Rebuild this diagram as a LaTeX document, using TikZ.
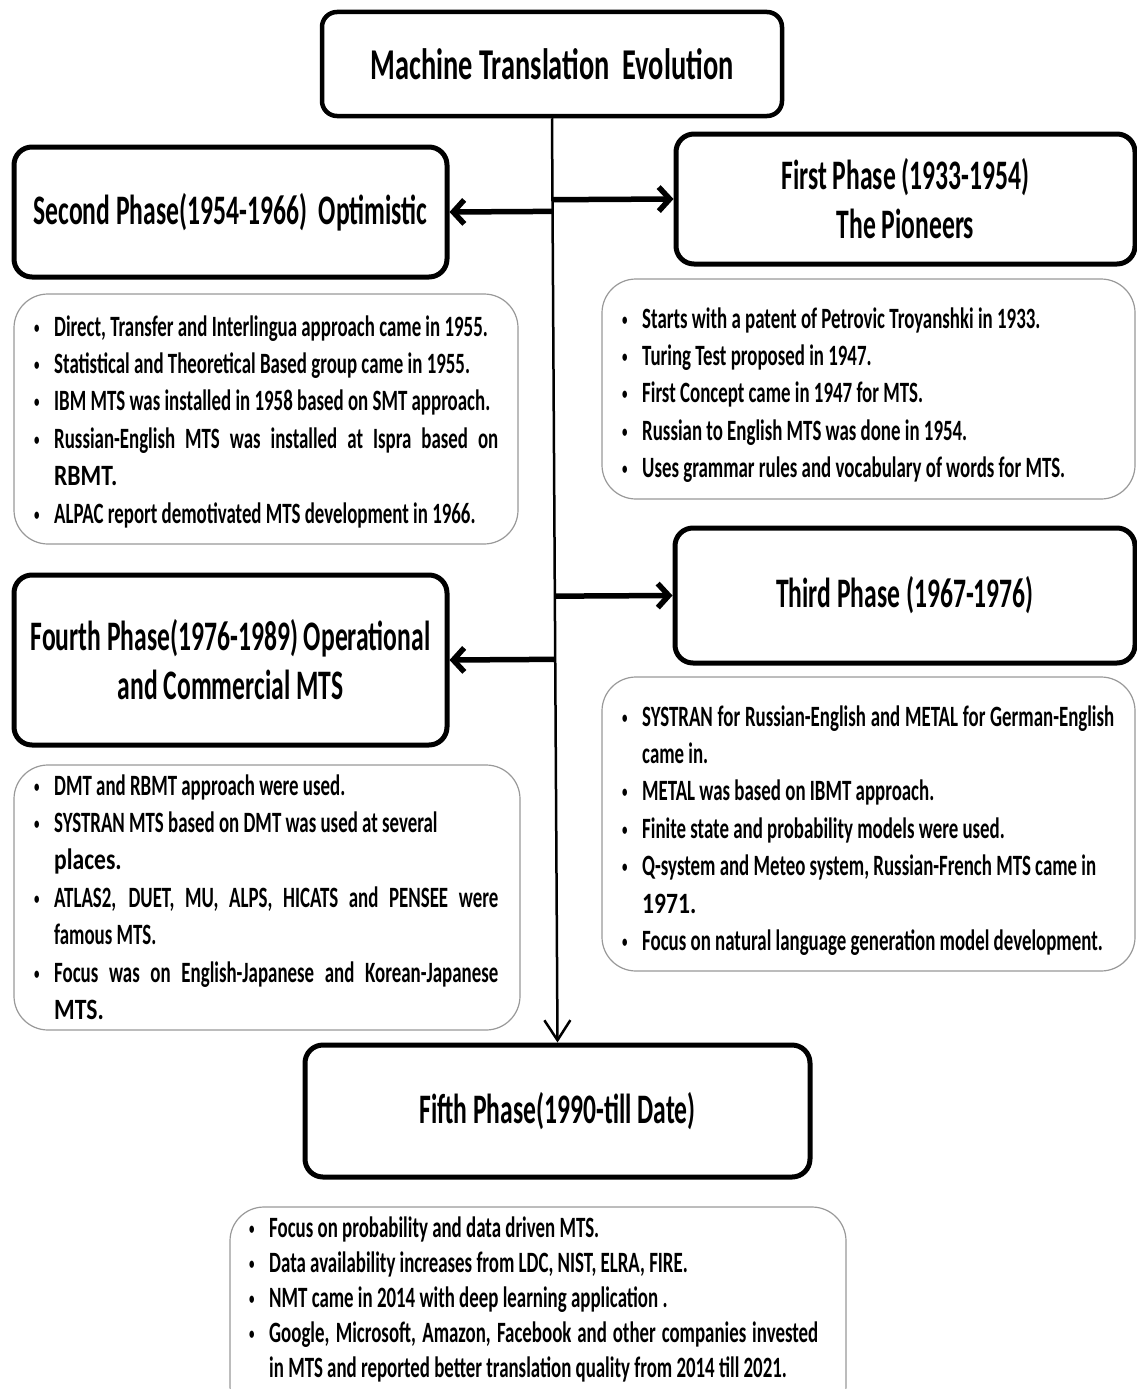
\documentclass[tikz,border=0pt]{standalone}
\usepackage{fontspec}
\setmainfont{Carlito}
\newfontfamily\bodyfont[FakeStretch=0.64]{Carlito Bold}
\newfontfamily\widefont[FakeStretch=0.80]{Carlito Bold}
\newfontfamily\headfont[FakeStretch=0.61]{Carlito Bold}
\newfontfamily\titlefont[FakeStretch=0.645]{Carlito Bold}
\usetikzlibrary{arrows.meta,calc}

% bullet marker, first item and following items with hanging indent
\newcommand\bmark{\makebox[20pt][l]{\raisebox{3pt}{\fontsize{17}{17}\selectfont\textbullet}}}
\newcommand\fitem{\hangindent=20pt\hangafter=1\bmark\ignorespaces}
\newcommand\bitem{\par\noindent\hangindent=20pt\hangafter=1\bmark\ignorespaces}
% paragraph settings for the lists
\newcommand\listsetup{\parskip=0pt\relax\parindent=0pt\relax\hyphenpenalty=10000\relax\exhyphenpenalty=10000\relax}

\tikzset{
  phasebox/.style={draw=black, line width=5pt, rounded corners=18pt, fill=white,
    align=center, inner sep=0pt, font=\headfont\fontsize{42}{49}\selectfont},
  titlebox/.style={draw=black, line width=4.5pt, rounded corners=15pt, fill=white,
    align=center, inner sep=0pt, font=\titlefont\fontsize{44}{50}\selectfont},
  infobox/.style={draw=black!40, line width=1.2pt, rounded corners=34pt, fill=white, inner sep=0pt},
  listtext/.style={inner sep=0pt, anchor=base west, align=justify,
    font=\bodyfont\fontsize{29.5}{37.4}\selectfont},
  trunk/.style={draw=black, line width=2.5pt, -{Straight Barb[length=20pt,width=26pt]}},
  harrow/.style={draw=black, line width=5.5pt, -{Straight Barb[length=11pt,width=24pt]}}
}

\begin{document}
\begin{tikzpicture}[x=1pt,y=-1pt]
\useasboundingbox (0,0) rectangle (1137,1389);
\clip (0,0) rectangle (1137,1389);

% information panels
\node[infobox, minimum width=504, minimum height=250] (b2) at (266,419) {};
\node[infobox, minimum width=533, minimum height=220] (b1) at (868.5,389) {};
\node[infobox, minimum width=533, minimum height=294] (b3) at (868.5,824) {};
\node[infobox, minimum width=506, minimum height=265] (b4) at (267,897.5) {};
\node[infobox, minimum width=616, minimum height=213] (b5) at (538,1313.5) {};

% phase boxes
\node[titlebox, minimum width=460, minimum height=104] (title) at (552,64) {Machine Translation\ \ Evolution};
\node[phasebox, minimum width=433, minimum height=130] (p2) at (230.5,212) {Second Phase(1954-1966)\ \ Optimistic};
\node[phasebox, minimum width=459, minimum height=130] (p1) at (905.5,199) {First Phase (1933-1954)\\The Pioneers};
\node[phasebox, minimum width=460, minimum height=135] (p3) at (905,595.5) {Third Phase (1967-1976)};
\node[phasebox, minimum width=433, minimum height=170] (p4) at (230.5,660) {Fourth Phase(1976-1989) Operational\\and Commercial MTS};
\node[phasebox, minimum width=505, minimum height=132] (p5) at (557.5,1111) {Fifth Phase(1990-till Date)};

% connectors
\draw[trunk] (title.south) -- (p5.north);
\draw[harrow] ($(title.south)!(p1.west)!(p5.north)$) -- (p1.west);
\draw[harrow] ($(title.south)!(p2.east)!(p5.north)$) -- (p2.east);
\draw[harrow] ($(title.south)!(p3.west)!(p5.north)$) -- (p3.west);
\draw[harrow] ($(title.south)!(p4.east)!(p5.north)$) -- (p4.east);

% bullet lists
\node[listtext, text width=464] (l2) at (34,336) {\listsetup
\fitem Direct, Transfer and Interlingua approach came in 1955.
\bitem Statistical and Theoretical Based group came in 1955.
\bitem IBM MTS was installed in 1958 based on SMT approach.
\bitem Russian-English MTS was installed at Ispra based on\linebreak {\widefont RBMT.}
\bitem ALPAC report demotivated MTS development in 1966.\par};

\node[listtext, text width=493] (l1) at (622,328) {\listsetup
\fitem Starts with a patent of Petrovic Troyanshki in 1933.
\bitem Turing Test proposed in 1947.
\bitem First Concept came in 1947 for MTS.
\bitem Russian to English MTS was done in 1954.
\bitem Uses grammar rules and vocabulary of words for MTS.\par};

\node[listtext, text width=492] (l3) at (622,726) {\listsetup
\fitem SYSTRAN for Russian-English and METAL for German-English\linebreak came in.
\bitem METAL was based on IBMT approach.
\bitem Finite state and probability models were used.
\bitem Q-system and Meteo system, Russian-French MTS came in\newline {\widefont 1971.}
\bitem Focus on natural language generation model development.\par};

\node[listtext, text width=464] (l4) at (34,795) {\listsetup
\fitem DMT and RBMT approach were used.
\bitem SYSTRAN MTS based on DMT was used at several\newline {\widefont places.}
\bitem ATLAS2, DUET, MU, ALPS, HICATS and PENSEE were\linebreak famous MTS.
\bitem Focus was on English-Japanese and Korean-Japanese\linebreak {\widefont MTS.}\par};

\node[listtext, text width=569, font=\bodyfont\fontsize{29.5}{35}\selectfont] (l5) at (249,1237) {\listsetup
\fitem Focus on probability and data driven MTS.
\bitem Data availability increases from LDC, NIST, ELRA, FIRE.
\bitem NMT came in 2014 with deep learning application .
\bitem Google, Microsoft, Amazon, Facebook and other companies invested\linebreak in MTS and reported better translation quality from 2014 till 2021.\par};
\end{tikzpicture}
\end{document}
